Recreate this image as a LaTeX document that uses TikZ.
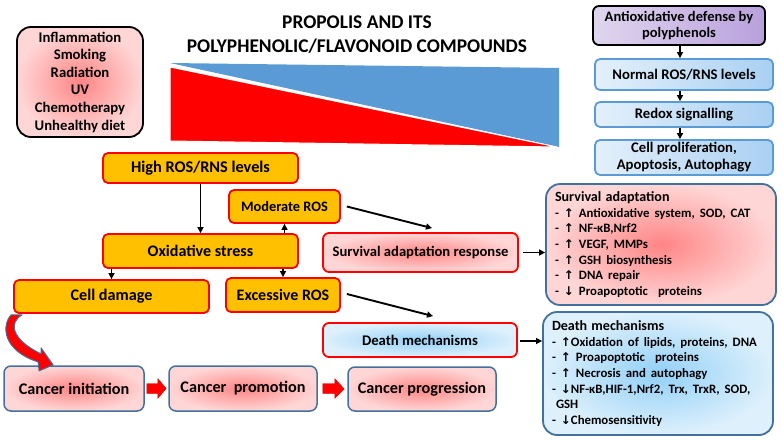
\documentclass[tikz,border=0pt]{standalone}
\usepackage{fontspec}
\setmainfont{Carlito}
\newfontfamily\symf{DejaVu Sans}
\usetikzlibrary{arrows.meta,calc}
\definecolor{gold}{HTML}{FFC000}
\definecolor{steel}{HTML}{41719C}
\definecolor{colblue}{HTML}{5B9BD5}
\definecolor{pinkin}{HTML}{FF8585}
\definecolor{pinkout}{HTML}{FFD6D6}
\definecolor{bluein}{HTML}{92D0F7}
\definecolor{blueout}{HTML}{DDF0FC}
\definecolor{lblueL}{HTML}{E4F0FB}
\definecolor{lblueR}{HTML}{A9D0F2}
\definecolor{purL}{HTML}{E0D6EE}
\definecolor{purR}{HTML}{B9A0DC}
\definecolor{triblue}{HTML}{5B9BD5}
\newcommand{\fz}[2]{\fontsize{#1}{#2}\selectfont}
\newcommand{\up}{{\symf\bfseries\fontsize{12}{15.6}\selectfont ↑}}
\newcommand{\dn}{{\symf\bfseries\fontsize{12}{15.6}\selectfont ↓}}
\newcommand{\boxtitle}[1]{{\fontsize{14.1}{15.6}\selectfont #1}}
\newcommand{\li}[1]{\mbox{\fontsize{12.8}{15.6}\selectfont\spaceskip=5pt plus 1pt\relax #1}}
\begin{document}
\begin{tikzpicture}[x=1pt,y=-1pt,
  font=\bfseries,
  orangebox/.style={draw=red, line width=1.8pt, fill=gold, rounded corners=5pt, inner sep=0pt, align=center},
  pinkbox/.style={draw=red, line width=1.8pt, inner color=pinkin, outer color=pinkout, rounded corners=6pt, inner sep=0pt, align=center},
  cancerbox/.style={draw=steel, line width=1.5pt, inner color=pinkin, outer color=pinkout, rounded corners=7pt, inner sep=0pt, align=center, minimum height=45pt, font=\bfseries\fz{16.2}{19}},
  colbox/.style={draw=colblue, line width=1.8pt, left color=lblueL, right color=lblueR, rounded corners=5pt, inner sep=0pt, align=center, minimum width=178pt, font=\bfseries\fz{14.7}{17}},
  bigbox/.style={draw=steel, line width=1.8pt, rounded corners=14pt, inner xsep=9pt, inner ysep=0pt, text width=212pt, align=left, minimum width=230pt, font=\bfseries\fz{12.6}{15.6}},
  arr/.style={-{Triangle[length=6pt,width=6pt]}, line width=1.9pt},
  blockarrow/.style={fill=red, draw=red!80!black, line width=0.3pt},
  curvearrow/.style={fill=red, draw=steel, line width=1pt, line join=round}
]
\useasboundingbox (0,0) rectangle (782,442);

% title
\node[font=\bfseries\fz{19.4}{24}, align=center] (title) at (357,35) {PROPOLIS AND ITS\\POLYPHENOLIC/FLAVONOID COMPOUNDS};

% triangles
\fill[triblue] (170,63) -- (559,68) -- (559,147) -- cycle;
\filldraw[fill=red, draw=white, line width=1pt] (170,67) -- (557,147) -- (170,141) -- cycle;

% risk factors
\node[draw=black, line width=1.8pt, inner color=pinkin, outer color=pinkout, rounded corners=14pt,
  minimum width=126pt, minimum height=110pt, inner sep=0pt, align=center, font=\bfseries\fz{14.7}{17.6}]
  (risk) at (80,82) {Inflammation\\Smoking\\Radiation\\UV\\Chemotherapy\\Unhealthy diet};

% right column
\node[draw=black, line width=1.8pt, left color=purL, right color=purR, rounded corners=6pt,
  minimum width=172pt, minimum height=39pt, inner sep=0pt, align=center, font=\bfseries\fz{14.5}{15.5}]
  (anti) at (679,25.5) {Antioxidative defense by\\polyphenols};
\node[colbox, minimum height=31pt] (normal) at (684,74.5) {Normal ROS/RNS levels};
\node[colbox, minimum height=25pt] (redox) at (684,114.5) {Redox signalling};
\node[colbox, minimum height=35pt] (prolif) at (684,157.5) {Cell proliferation,\\Apoptosis, Autophagy};

\draw[arr] ($(anti.south)+(1,0)$) -- ($(normal.north)+(-4,0)$);
\draw[arr] ($(normal.south)+(-4,0)$) -- ($(redox.north)+(-4,0)$);
\draw[arr] ($(redox.south)+(-4,0)$) -- ($(prolif.north)+(-4,0)$);

% orange boxes
\node[orangebox, minimum width=195pt, minimum height=30pt, font=\bfseries\fz{16.3}{19}] (high) at (200.5,168) {High ROS/RNS levels};
\node[orangebox, minimum width=111pt, minimum height=33pt, font=\bfseries\fz{14.4}{17}] (moderate) at (284.5,206.5) {Moderate ROS};
\node[orangebox, minimum width=195pt, minimum height=34pt, font=\bfseries\fz{16.1}{19}] (oxid) at (200.5,251) {Oxidative stress};
\node[orangebox, minimum width=114pt, minimum height=34pt, font=\bfseries\fz{16}{19}] (excess) at (283,295) {Excessive ROS};
\node[orangebox, minimum width=195pt, minimum height=33pt, font=\bfseries\fz{16.2}{19}] (celldmg) at (111.5,296.5) {Cell damage};

\draw[arr] (high.south) -- (oxid.north);
\draw[arr] (moderate.south |- oxid.north) -- (moderate.south);
\draw[arr] (excess.north |- oxid.south) -- (excess.north);
\draw[arr] (celldmg.north |- oxid.south) -- (celldmg.north);

% responses
\node[pinkbox, minimum width=195pt, minimum height=39pt, font=\bfseries\fz{14.6}{17}] (survresp) at (420.5,252.5) {Survival adaptation response};
\node[draw=red, line width=1.8pt, inner color=bluein, outer color=blueout, rounded corners=6pt,
  inner sep=0pt, minimum width=194pt, minimum height=34pt, font=\bfseries\fz{14.7}{17}] (deathresp) at (420,340) {Death mechanisms};

\draw[arr] ($(moderate.east)+(6,0)$) -- ($(survresp.north)+(11.5,-4)$);
\draw[arr] ($(excess.east)+(6,-1)$) -- ($(deathresp.north)+(13,-6)$);

% big boxes
\node[bigbox, inner color=pinkin, outer color=pinkout, minimum height=121pt] (survbig) at (661,244.5)
{\boxtitle{Survival adaptation}\\
\li{- \up{} Antioxidative system, SOD, CAT}\\
\li{- \up{} NF-κB,Nrf2}\\
\li{- \up{} VEGF, MMPs}\\
\li{- \up{} GSH biosynthesis}\\
\li{- \up{} DNA repair}\\
\li{- \dn{} Proapoptotic\ \ proteins}};
\node[bigbox, inner color=bluein, outer color=blueout, minimum height=123pt] (deathbig) at (658,373.5)
{\boxtitle{Death mechanisms}\\
\li{- \up{}Oxidation of lipids, proteins, DNA}\\
\li{- \up{} Proapoptotic\ \ proteins}\\
\li{- \up{} Necrosis and autophagy}\\
\li{- \dn{}NF-κB,HIF-1,Nrf2, Trx, TrxR, SOD,}\\
\li{\hspace*{4pt}GSH}\\
\li{- \dn{}Chemosensitivity}};

\draw[arr] ($(survresp.east)+(4,0)$) -- (survbig.west |- survresp.east);
\draw[arr] ($(deathresp.east)+(2,1)$) -- ($(deathbig.west |- deathresp.east)+(0,1)$);

% cancer stages
\node[cancerbox, minimum width=140pt] (init) at (74,388.5) {Cancer initiation};
\node[cancerbox, minimum width=148pt] (promo) at (243,388.5) {Cancer\ \ promotion};
\node[cancerbox, minimum width=148pt, minimum height=44pt] (progr) at (422,389) {Cancer progression};

\filldraw[blockarrow] ($(init.east)+(2,-5)$) -- ++(11,0) -- ++(0,-5) -- ($(promo.west)+(-2,0)$)
  -- ($(init.east)+(13,10)$) -- ++(0,-5) -- ++(-11,0) -- cycle;
\filldraw[blockarrow] ($(promo.east)+(5,-5)$) -- ++(12,0) -- ++(0,-5) -- ($(progr.west)+(-3,0)$)
  -- ($(promo.east)+(17,10)$) -- ++(0,-5) -- ++(-12,0) -- cycle;

% curved arrow from cell damage to cancer initiation
\begin{scope}[shift={(celldmg.south west)}]
\filldraw[curvearrow] (9,1) .. controls (-4,8) and (-3,25) .. (28,40)
  -- (28,34) -- (40,51) -- (26,57) -- (25,48)
  .. controls (-10,37) and (-12,12) .. (-2,1) -- cycle;
\end{scope}

\end{tikzpicture}
\end{document}
